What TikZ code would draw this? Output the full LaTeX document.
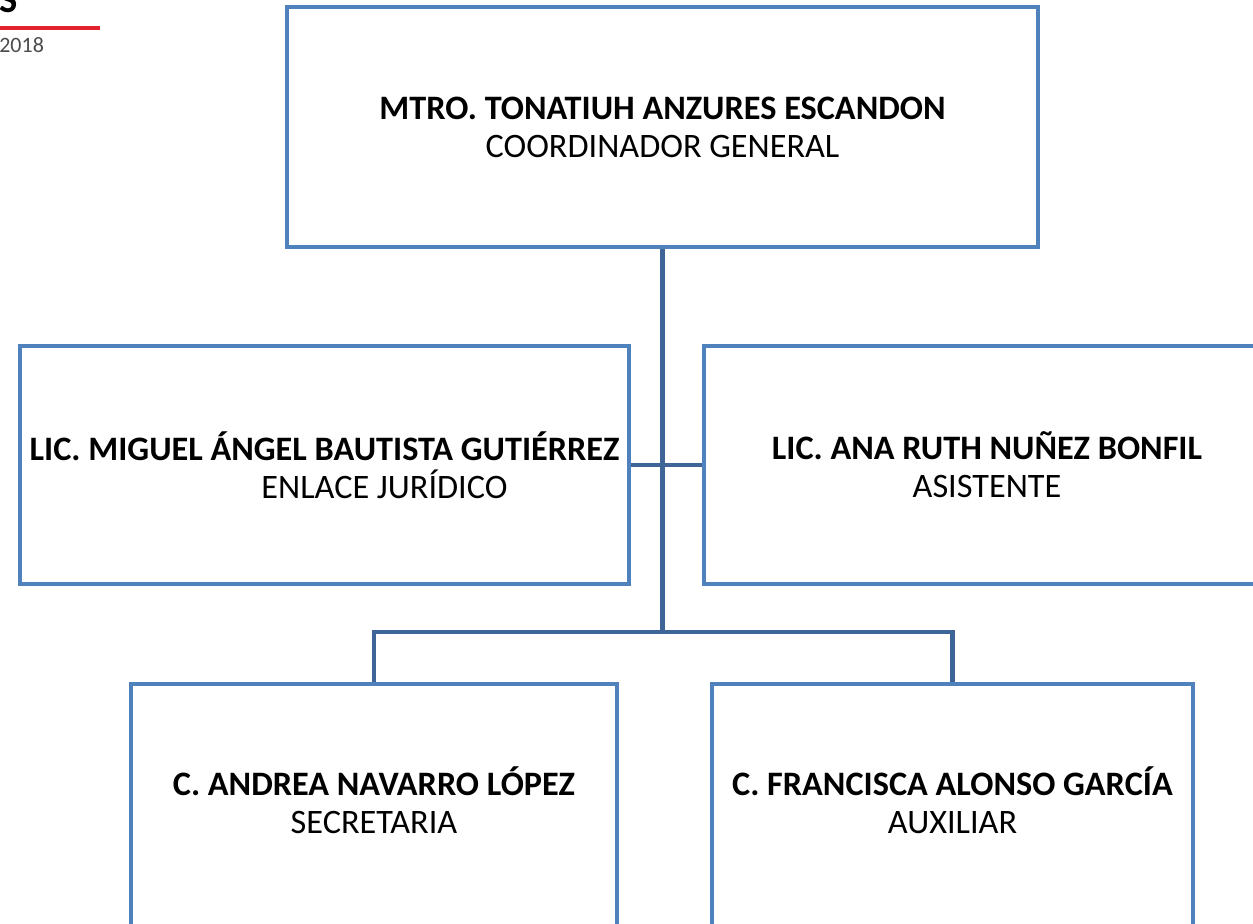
\documentclass[tikz,border=0pt]{standalone}
\usepackage{fontspec}
\setmainfont{Carlito}
\usetikzlibrary{calc, positioning}

\definecolor{boxblue}{RGB}{79,129,189}
\definecolor{linkblue}{RGB}{62,100,152}
\definecolor{headred}{RGB}{226,35,45}

\tikzset{
  unit/.style={draw=boxblue, line width=2.2pt, fill=white, inner sep=0pt, align=center,
    font=\fontsize{19.5}{21.5}\selectfont},
  link/.style={draw=linkblue, line width=2.8pt},
}

\begin{document}
\begin{tikzpicture}[x=0.02cm, y=-0.02cm]
    \useasboundingbox (0,0) rectangle (1253,923);
    \clip (0,0) rectangle (1253,923);
    \fill[white] (0,0) rectangle (1253,923);
    % page header remains
    \node[anchor=south west, inner sep=0pt, font=\fontsize{22}{22}\selectfont\bfseries] (hdrs) at (-1,13) {S};
    \draw[headred, line width=2.3pt] (0,28) -- (100,28);
    \node[anchor=base west, inner sep=0pt, text=black!70, font=\fontsize{12.5}{14}\selectfont] (hdryear) at (-1,52) {2018};
    % boxes
    \node[unit, minimum width=15.02cm, minimum height=4.8cm] (coord) at (662.5,127)
        {\textbf{MTRO. TONATIUH ANZURES ESCANDON}\\COORDINADOR GENERAL};
    \node[unit, minimum width=12.18cm, minimum height=4.76cm] (juridico) at (324.5,465)
        {\textbf{LIC. MIGUEL ÁNGEL BAUTISTA GUTIÉRREZ}\\\hspace*{2.4cm}ENLACE JURÍDICO};
    \node[unit, minimum width=11.32cm, minimum height=4.76cm] (asist) at (987,465)
        {\textbf{LIC. ANA RUTH NUÑEZ BONFIL}\\ASISTENTE};
    \node[unit, minimum width=9.72cm, minimum height=5cm] (secre) at (374,809) {};
    \node[unit, minimum width=9.62cm, minimum height=5cm] (auxil) at (952.5,809) {};
    \node[unit, draw=none, fill=none] (secre-t) at (374,800)
        {\textbf{C. ANDREA NAVARRO LÓPEZ}\\SECRETARIA};
    \node[unit, draw=none, fill=none] (auxil-t) at (952.5,800)
        {\textbf{C. FRANCISCA ALONSO GARCÍA}\\AUXILIAR};
    % connectors
    \coordinate (split) at (coord.south |- 0,632);
    \draw[link] (coord.south) -- (split);
    \draw[link] (juridico.east) -- (asist.west);
    \draw[link] (secre.north) |- (split) -| (auxil.north);
\end{tikzpicture}
\end{document}
